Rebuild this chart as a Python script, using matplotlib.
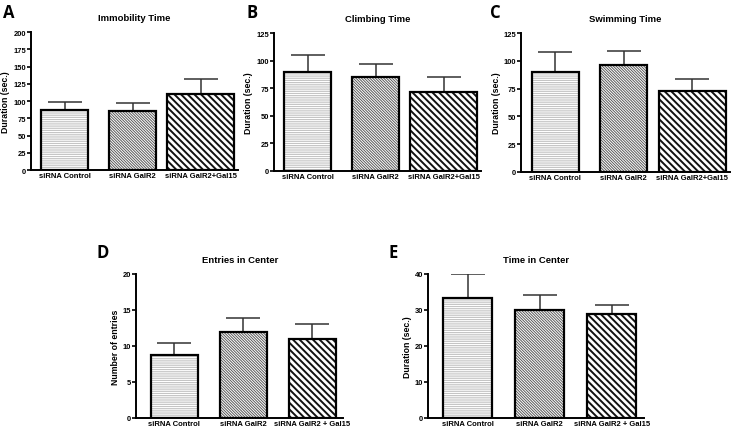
import numpy as np
import matplotlib
matplotlib.use("Agg")
import matplotlib.pyplot as plt

plt.rcParams['font.family'] = ['Liberation Sans', 'DejaVu Sans']
plt.rcParams['font.weight'] = 'bold'
plt.rcParams['hatch.linewidth'] = 0.8

# Data
groups_fst = ["siRNA Control", "siRNA GalR2", "siRNA GalR2+Gal15"]
groups_oft = ["siRNA Control", "siRNA GalR2", "siRNA GalR2 + Gal15"]

immobility_mean = [87, 85, 111]
immobility_err = [12, 12, 21]
climbing_mean = [89.5, 85, 71.5]
climbing_err = [15.5, 12, 14]
swimming_mean = [89.5, 96.5, 73]
swimming_err = [18, 12, 11]
entries_mean = [8.8, 11.9, 11.0]
entries_err = [1.6, 2.0, 2.0]
timecenter_mean = [33.3, 30.0, 28.9]
timecenter_err = [6.6, 4.1, 2.5]

hatches = ['-' * 9, '\\' * 12, '\\' * 5]
hatch_colors = ['#b4b4b4', '#5a5a5a', '#111111']
hatch_widths = [0.55, 0.7, 1.4]

fig = plt.figure(figsize=(7.32, 4.31), dpi=100)


def panel(rect, title, means, errs, labels, ylabel, ymax, ystep,
          widths, xlim):
    ax = fig.add_axes(rect)
    x = np.arange(len(means))
    for i in range(len(means)):
        hb = ax.bar(x[i], means[i], width=widths[i], color='white',
                    edgecolor=hatch_colors[i], hatch=hatches[i], linewidth=0,
                    zorder=2)
        for p in hb:
            if hasattr(p, 'set_hatch_linewidth'):
                p.set_hatch_linewidth(hatch_widths[i])
        ax.bar(x[i], means[i], width=widths[i], color='none',
               edgecolor='black', linewidth=1.6, zorder=3)
        ax.errorbar(x[i], means[i], yerr=[[0], [errs[i]]], fmt='none',
                    ecolor='#333333', elinewidth=1.1, capsize=12,
                    capthick=1.1, zorder=1)
    ax.set_xlim(*xlim)
    ax.set_ylim(0, ymax)
    ax.set_yticks(np.arange(0, ymax + 0.01, ystep))
    ax.set_xticks(x)
    ax.set_xticklabels(labels, fontsize=5.5, fontweight='bold')
    ax.tick_params(axis='y', labelsize=5.4, length=3, width=1.2, pad=0.5)
    ax.tick_params(axis='x', length=0, pad=1.5)
    for lab in ax.get_yticklabels():
        lab.set_fontweight('bold')
    ax.spines['top'].set_visible(False)
    ax.spines['right'].set_visible(False)
    ax.spines['left'].set_linewidth(1.4)
    ax.spines['bottom'].set_linewidth(1.4)
    ax.set_ylabel(ylabel, fontsize=6.3, fontweight='bold', labelpad=2)
    ax.set_title(title, fontsize=6.8, fontweight='bold', pad=8.5)
    return ax


top_w = [0.69, 0.69, 0.98]
top_xlim = (-0.5, 2.55)
bot_w = [0.68, 0.68, 0.68]
bot_xlim = (-0.55, 2.45)

panel([0.042, 0.603, 0.283, 0.320], 'Immobility Time', immobility_mean,
      immobility_err, groups_fst, 'Duration (sec.)', 200, 25, top_w, top_xlim)
panel([0.374, 0.601, 0.283, 0.320], 'Climbing Time', climbing_mean,
      climbing_err, groups_fst, 'Duration (sec.)', 125, 25, top_w, top_xlim)
panel([0.712, 0.599, 0.285, 0.322], 'Swimming Time', swimming_mean,
      swimming_err, groups_fst, 'Duration (sec.)', 125, 25, top_w, top_xlim)
panel([0.186, 0.028, 0.283, 0.334], 'Entries in Center', entries_mean,
      entries_err, groups_oft, 'Number of entries', 20, 5, bot_w, bot_xlim)
panel([0.585, 0.028, 0.295, 0.334], 'Time in Center', timecenter_mean,
      timecenter_err, groups_oft, 'Duration (sec.)', 40, 10, bot_w, bot_xlim)

# Panel letters
for letter, px, py in [('A', 3, 13), ('B', 246, 13), ('C', 490, 13),
                       ('D', 97, 253), ('E', 388, 253)]:
    fig.text(px / 732, 1 - py / 431, letter, fontsize=12, fontweight='bold',
             family=['Open Sans', 'DejaVu Sans'], va='center', ha='left')

fig.savefig('out.png', dpi=100)
